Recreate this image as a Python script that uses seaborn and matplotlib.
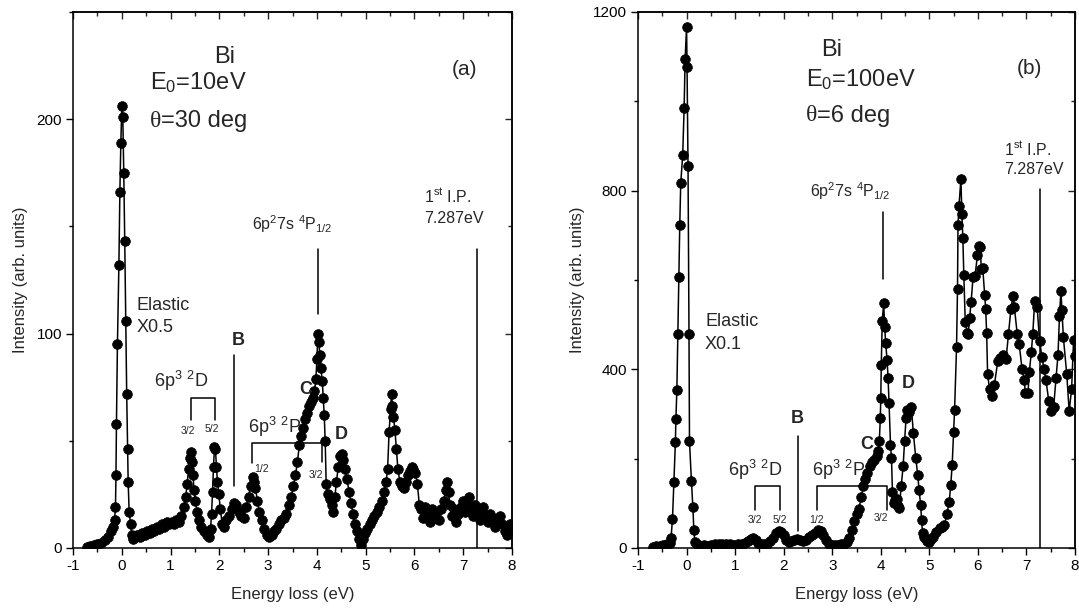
import numpy as np
import pandas as pd
import matplotlib
matplotlib.use("Agg")
import matplotlib.pyplot as plt
import seaborn as sns

# ---- panel (a) : E0 = 10 eV, theta = 30 deg ----
energy_a = [-0.72, -0.65, -0.58, -0.50, -0.42, -0.35, -0.28, -0.22, -0.18, -0.15,
            -0.13, -0.12, -0.11, -0.09, -0.06, -0.04, -0.02, 0.00, 0.02, 0.04,
            0.06, 0.08, 0.10, 0.12, 0.13, 0.15, 0.18, 0.20, 0.23, 0.27,
            0.32, 0.37, 0.42, 0.47, 0.52, 0.57, 0.62, 0.67, 0.72, 0.77,
            0.82, 0.87, 0.92, 0.97, 1.02, 1.07, 1.12, 1.17, 1.22, 1.27,
            1.31, 1.34, 1.37, 1.40, 1.42, 1.44, 1.46, 1.48, 1.51, 1.54,
            1.58, 1.63, 1.68, 1.74, 1.79, 1.82, 1.84, 1.86, 1.88, 1.90,
            1.92, 1.94, 1.96, 1.99, 2.02, 2.06, 2.10, 2.14, 2.19, 2.25,
            2.30, 2.35, 2.40, 2.45, 2.50, 2.55, 2.60, 2.64, 2.68, 2.71,
            2.74, 2.78, 2.82, 2.87, 2.92, 2.97, 3.02, 3.07, 3.12, 3.17,
            3.22, 3.27, 3.32, 3.37, 3.42, 3.47, 3.52, 3.56, 3.60, 3.64,
            3.67, 3.71, 3.75, 3.79, 3.83, 3.87, 3.91, 3.95, 3.98, 4.00,
            4.02, 4.04, 4.06, 4.08, 4.11, 4.13, 4.15, 4.17, 4.19, 4.22,
            4.26, 4.30, 4.34, 4.37, 4.40, 4.44, 4.48, 4.51, 4.54, 4.58,
            4.62, 4.66, 4.70, 4.74, 4.78, 4.82, 4.86, 4.90, 4.94, 4.98,
            5.03, 5.08, 5.13, 5.18, 5.23, 5.28, 5.33, 5.38, 5.42, 5.45,
            5.48, 5.51, 5.53, 5.55, 5.57, 5.60, 5.63, 5.66, 5.70, 5.74,
            5.78, 5.82, 5.86, 5.90, 5.94, 5.98, 6.02, 6.06, 6.10, 6.14,
            6.18, 6.22, 6.27, 6.31, 6.35, 6.40, 6.45, 6.50, 6.55, 6.60,
            6.64, 6.67, 6.70, 6.73, 6.77, 6.82, 6.86, 6.90, 6.95, 7.00,
            7.04, 7.08, 7.12, 7.16, 7.20, 7.25, 7.30, 7.35, 7.40, 7.45,
            7.50, 7.55, 7.60, 7.65, 7.70, 7.75, 7.80, 7.85, 7.90, 7.95, 8.00]
intensity_a = [0.5, 1, 1.5, 2, 2.5, 3.5, 5, 8, 10, 13,
               19, 34, 58, 95, 132, 166, 189, 206, 201, 175,
               143, 106, 72, 46, 31, 17, 11, 6, 4, 5,
               6, 5, 7, 6, 8, 7, 9, 8, 10, 9,
               11, 10, 12, 11, 12, 11, 13, 12, 15, 19,
               24, 30, 37, 42, 45, 40, 34, 27, 22, 17,
               13, 10, 8, 6, 5, 9, 16, 26, 38, 47,
               46, 38, 31, 25, 18, 11, 10, 13, 15, 18,
               21, 20, 17, 15, 14, 19, 24, 29, 33, 31,
               28, 22, 17, 13, 9, 6, 5, 6, 8, 9,
               11, 13, 14, 16, 20, 24, 29, 34, 40, 48,
               52, 56, 60, 63, 66, 68, 70, 73, 79, 88,
               100, 96, 90, 84, 78, 70, 62, 50, 30, 25,
               23, 20, 17, 24, 31, 38, 43, 44, 41, 37,
               32, 26, 21, 16, 11, 8, 4, 1.5, 4, 7,
               9, 11, 13, 15, 17, 19, 22, 26, 31, 37,
               54, 65, 72, 66, 61, 55, 46, 37, 31, 29,
               28, 31, 34, 36, 38, 37, 35, 30, 20, 18,
               14, 19, 15, 12, 18, 14, 16, 13, 18, 22,
               27, 31, 26, 20, 15, 18, 12, 16, 19, 22,
               17, 20, 24, 18, 15, 20, 17, 13, 19, 15,
               12, 16, 14, 10, 13, 15, 11, 8, 6, 11, 9]

# ---- panel (b) : E0 = 100 eV, theta = 6 deg ----
energy_b = [-0.70, -0.62, -0.55, -0.48, -0.40, -0.35, -0.32, -0.29, -0.26, -0.23,
            -0.22, -0.20, -0.18, -0.16, -0.14, -0.12, -0.08, -0.05, -0.03, 0.00,
            0.01, 0.03, 0.05, 0.06, 0.10, 0.13, 0.15, 0.17, 0.22, 0.28,
            0.35, 0.42, 0.50, 0.58, 0.66, 0.74, 0.82, 0.90, 0.98, 1.06,
            1.14, 1.20, 1.26, 1.32, 1.37, 1.42, 1.48, 1.54, 1.60, 1.66,
            1.72, 1.78, 1.84, 1.90, 1.95, 2.00, 2.05, 2.10, 2.16, 2.22,
            2.28, 2.34, 2.40, 2.46, 2.52, 2.58, 2.64, 2.70, 2.76, 2.82,
            2.88, 2.94, 3.00, 3.06, 3.12, 3.18, 3.24, 3.30, 3.35, 3.40,
            3.45, 3.50, 3.55, 3.60, 3.64, 3.68, 3.72, 3.77, 3.82, 3.87,
            3.92, 3.95, 3.97, 3.99, 4.00, 4.01, 4.03, 4.06, 4.08, 4.10,
            4.13, 4.15, 4.17, 4.20, 4.22, 4.24, 4.27, 4.30, 4.33, 4.36,
            4.38, 4.42, 4.46, 4.49, 4.52, 4.54, 4.58, 4.63, 4.67, 4.72,
            4.76, 4.79, 4.82, 4.84, 4.86, 4.90, 4.95, 4.99, 5.04, 5.08,
            5.14, 5.21, 5.26, 5.31, 5.36, 5.41, 5.44, 5.47, 5.50, 5.52,
            5.56, 5.58, 5.59, 5.61, 5.65, 5.67, 5.69, 5.71, 5.74, 5.78,
            5.80, 5.83, 5.86, 5.90, 5.94, 5.99, 6.02, 6.05, 6.07, 6.10,
            6.14, 6.16, 6.18, 6.20, 6.24, 6.29, 6.34, 6.41, 6.46, 6.51,
            6.58, 6.63, 6.68, 6.72, 6.75, 6.81, 6.85, 6.91, 6.95, 6.98,
            7.03, 7.06, 7.10, 7.13, 7.17, 7.22, 7.27, 7.32, 7.36, 7.40,
            7.46, 7.51, 7.56, 7.61, 7.65, 7.68, 7.71, 7.73, 7.76, 7.83,
            7.88, 7.93, 7.97, 8.00]
intensity_b = [3, 4, 4, 6, 8, 12, 22, 65, 148, 237,
               288, 353, 479, 607, 724, 817, 879, 986, 1094, 1166,
               1076, 855, 479, 239, 150, 91, 40, 14, 8, 5,
               6, 5, 7, 8, 9, 8, 9, 8, 7, 8,
               10, 12, 16, 20, 22, 18, 12, 9, 8, 10,
               15, 22, 33, 37, 35, 28, 18, 14, 15, 18,
               20, 17, 15, 19, 24, 28, 34, 40, 38, 28,
               17, 10, 7, 6, 7, 8, 10, 14, 22, 40,
               60, 75, 88, 115, 138, 155, 168, 183, 192, 198,
               205, 218, 240, 290, 336, 409, 509, 548, 495, 460,
               420, 381, 325, 231, 202, 126, 100, 108, 110, 95,
               89, 138, 183, 239, 290, 310, 305, 315, 258, 202,
               164, 129, 97, 63, 33, 25, 15, 14, 20, 25,
               35, 44, 48, 51, 75, 104, 140, 186, 260, 310,
               449, 580, 722, 765, 826, 748, 694, 611, 505, 482,
               478, 516, 550, 606, 608, 655, 676, 674, 625, 626,
               566, 536, 482, 389, 355, 340, 365, 419, 425, 433,
               423, 479, 535, 565, 540, 479, 457, 400, 377, 348,
               346, 395, 438, 479, 553, 540, 464, 427, 400, 377,
               329, 307, 316, 381, 433, 519, 576, 533, 472, 389,
               306, 356, 465, 430]

df_a = pd.DataFrame({"energy": energy_a, "intensity": intensity_a})
df_b = pd.DataFrame({"energy": energy_b, "intensity": intensity_b})

sns.set_theme(style="ticks")
plt.rcParams["font.family"] = ["Liberation Sans", "DejaVu Sans"]
plt.rcParams["axes.unicode_minus"] = False
plt.rcParams["mathtext.fontset"] = "custom"
plt.rcParams["mathtext.rm"] = "Liberation Sans"
plt.rcParams["mathtext.it"] = "Liberation Sans:italic"
plt.rcParams["mathtext.bf"] = "Liberation Sans:bold"
serif = ["Liberation Serif", "DejaVu Serif"]

fig = plt.figure(figsize=(10.79, 6.08), dpi=100)
ax_a = fig.add_axes([0.0677, 0.0987, 0.4068, 0.8816])
ax_b = fig.add_axes([0.5913, 0.0987, 0.4050, 0.8816])


def style_axes(ax, ymax, ymajor):
    ax.set_xlim(-1, 8)
    ax.set_ylim(0, ymax)
    ax.set_xticks(np.arange(-1, 9, 1))
    ax.set_xticks(np.arange(-1, 8.01, 0.5), minor=True)
    ax.set_yticks(np.arange(0, ymax + 1, ymajor))
    ax.set_yticks(np.arange(0, ymax + 1, ymajor / 2), minor=True)
    ax.tick_params(which="both", direction="out", width=1.0, colors="black",
                   labelsize=11, pad=3)
    ax.tick_params(which="major", length=5)
    ax.tick_params(which="minor", length=3)
    for sp in ax.spines.values():
        sp.set_visible(True)
        sp.set_linewidth(1.1)
        sp.set_color("black")
    # mirrored ticks on top / right, pointing inward
    top = ax.secondary_xaxis("top")
    top.set_xticks(np.arange(-1, 9, 1))
    top.set_xticks(np.arange(-1, 8.01, 0.5), minor=True)
    top.tick_params(which="both", direction="in", labeltop=False, width=1.0)
    top.tick_params(which="major", length=5)
    top.tick_params(which="minor", length=3)
    right = ax.secondary_yaxis("right")
    right.set_yticks(np.arange(0, ymax + 1, ymajor))
    right.set_yticks(np.arange(0, ymax + 1, ymajor / 2), minor=True)
    right.tick_params(which="both", direction="in", labelright=False, width=1.0)
    right.tick_params(which="major", length=5)
    right.tick_params(which="minor", length=3)
    ax.set_xlabel("Energy loss (eV)", fontsize=12, labelpad=10)
    ax.set_ylabel("Intensity (arb. units)", fontsize=12, labelpad=6)


for ax, df in [(ax_a, df_a), (ax_b, df_b)]:
    sns.lineplot(data=df, x="energy", y="intensity", ax=ax, color="black",
                 marker="o", markersize=7, markeredgecolor="black",
                 markeredgewidth=0.5, linewidth=1.1, estimator=None, sort=False)

style_axes(ax_a, 250, 100)
style_axes(ax_b, 1200, 400)

lk = dict(color="black", linewidth=1.1)
big = 17
mid = 13
small = 11.5
tiny = 7.5


def theta_label(ax, x, y, rest):
    t = ax.text(x, y, "θ", fontsize=big, family=serif, ha="left", va="center")
    ax.annotate(rest, xy=(1, 0.5), xycoords=t, fontsize=big,
                ha="left", va="center")


# ---- annotations panel (a) ----
ax = ax_a
ax.text(2.1, 229, "Bi", fontsize=big, ha="center", va="center")
ax.text(0.57, 217, r"E$_0$=10eV", fontsize=big, ha="left", va="center")
theta_label(ax, 0.57, 199, "=30 deg")
ax.text(7.02, 223, "(a)", fontsize=15, ha="center", va="center")
ax.text(6.2, 164, r"1$^{\mathrm{st}}$ I.P.", fontsize=small, ha="left", va="center")
ax.text(6.2, 153.5, "7.287eV", fontsize=small, ha="left", va="center")
ax.plot([7.287, 7.287], [139.5, 0], **lk)
ax.text(2.66, 151, r"6p$^2$7s $^4$P$_{1/2}$", fontsize=small, ha="left", va="center")
ax.plot([4.03, 4.03], [139.5, 109], **lk)
ax.text(0.31, 113, "Elastic", fontsize=mid, ha="left", va="center")
ax.text(0.31, 103, "X0.5", fontsize=mid, ha="left", va="center")
ax.text(2.38, 96.7, "B", fontsize=mid, fontweight="bold", ha="center", va="center")
ax.plot([2.29, 2.29], [90, 29], **lk)
ax.text(0.67, 78, r"6p$^3$ $^2$D", fontsize=mid, ha="left", va="center")
ax.plot([1.41, 1.41, 1.91, 1.91], [59.5, 70, 70, 59.5], **lk)
ax.text(1.35, 54.6, "3/2", fontsize=tiny, ha="center", va="center")
ax.text(1.84, 55.7, "5/2", fontsize=tiny, ha="center", va="center")
ax.text(3.78, 74, "C", fontsize=mid, fontweight="bold", ha="center", va="center")
ax.text(2.58, 56.4, r"6p$^3$ $^2$P", fontsize=mid, ha="left", va="center")
ax.plot([2.67, 2.67, 4.10, 4.10], [39.5, 49, 49, 40], **lk)
ax.text(2.87, 37, "1/2", fontsize=tiny, ha="center", va="center")
ax.text(3.98, 34, "3/2", fontsize=tiny, ha="center", va="center")
ax.text(4.5, 53, "D", fontsize=mid, fontweight="bold", ha="center", va="center")

# ---- annotations panel (b) ----
ax = ax_b
ax.text(2.99, 1115, "Bi", fontsize=big, ha="center", va="center")
ax.text(2.46, 1048, r"E$_0$=100eV", fontsize=big, ha="left", va="center")
theta_label(ax, 2.46, 968, "=6 deg")
ax.text(7.07, 1074, "(b)", fontsize=15, ha="center", va="center")
ax.text(6.53, 894, r"1$^{\mathrm{st}}$ I.P.", fontsize=small, ha="left", va="center")
ax.text(6.53, 847, "7.287eV", fontsize=small, ha="left", va="center")
ax.plot([7.287, 7.287], [804, 0], **lk)
ax.text(2.54, 798, r"6p$^2$7s $^4$P$_{1/2}$", fontsize=small, ha="left", va="center")
ax.plot([4.05, 4.05], [753, 602], **lk)
ax.text(0.38, 506, "Elastic", fontsize=mid, ha="left", va="center")
ax.text(0.38, 456, "X0.1", fontsize=mid, ha="left", va="center")
ax.text(2.27, 291, "B", fontsize=mid, fontweight="bold", ha="center", va="center")
ax.plot([2.3, 2.3], [250, 37], **lk)
ax.text(3.71, 231, "C", fontsize=mid, fontweight="bold", ha="center", va="center")
ax.text(4.56, 368, "D", fontsize=mid, fontweight="bold", ha="center", va="center")
ax.text(0.85, 175, r"6p$^3$ $^2$D", fontsize=mid, ha="left", va="center")
ax.plot([1.41, 1.41, 1.92, 1.92], [85, 138, 138, 85], **lk)
ax.text(1.41, 63, "3/2", fontsize=tiny, ha="center", va="center")
ax.text(1.92, 63, "5/2", fontsize=tiny, ha="center", va="center")
ax.text(2.58, 175, r"6p$^3$ $^2$P", fontsize=mid, ha="left", va="center")
ax.plot([2.68, 2.68, 4.12, 4.12], [85, 138, 138, 85], **lk)
ax.text(2.68, 63, "1/2", fontsize=tiny, ha="center", va="center")
ax.text(4.01, 67, "3/2", fontsize=tiny, ha="center", va="center")

fig.savefig("out.png", dpi=100)
